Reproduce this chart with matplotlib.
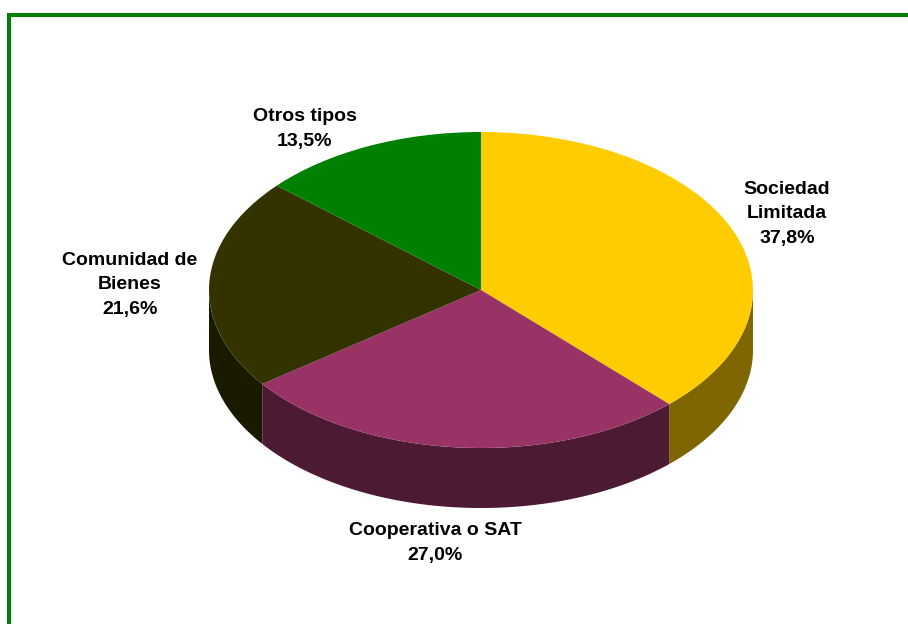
import numpy as np
import matplotlib
matplotlib.use('Agg')
import matplotlib.pyplot as plt
from matplotlib.lines import Line2D

# ---- data ----
categories = ['Sociedad\nLimitada', 'Cooperativa o SAT', 'Comunidad de\nBienes', 'Otros tipos']
shares = [37.8, 27.0, 21.6, 13.5]
share_labels = ['37,8%', '27,0%', '21,6%', '13,5%']
top_colors = ['#FFCC00', '#993366', '#333300', '#008000']
side_colors = ['#806600', '#4D1A33', '#1A1A00', '#004000']

# ---- layout (pixels) ----
W, H = 908, 624
cx, cy, rx, ry, depth_px = 481, 290, 272, 158, 60
label_pos = [(787, 214), (435, 543), (130, 285), (305, 129)]

fig = plt.figure(figsize=(W / 100, H / 100), dpi=100)
ax = fig.add_axes([0, 0, 1, 1])
depth = depth_px / ry

# top face
ax.pie(shares, colors=top_colors, startangle=90, counterclock=False, radius=1,
       wedgeprops=dict(linewidth=0, antialiased=True), normalize=True)

# side walls (front half only)
frac = np.array(shares) / np.sum(shares)
cum = np.concatenate([[0], np.cumsum(frac)])
for i in range(len(shares)):
    a_start = 90 - 360 * cum[i]
    a_end = 90 - 360 * cum[i + 1]
    lo, hi = max(a_end, -180), min(a_start, 0)
    if hi <= lo:
        continue
    t = np.radians(np.linspace(lo, hi, 200))
    xs = np.concatenate([np.cos(t), np.cos(t[::-1])])
    ys = np.concatenate([np.sin(t), np.sin(t[::-1]) - depth])
    ax.fill(xs, ys, color=side_colors[i], lw=0, zorder=0.5)

ax.set_aspect('auto')
ax.set_xlim(-cx / rx, (W - cx) / rx)
ax.set_ylim(-(H - cy) / ry, cy / ry)
ax.axis('off')

for (px, py), cat, lab in zip(label_pos, categories, share_labels):
    fig.text(px / W, 1 - py / H, f'{cat}\n{lab}', ha='center', va='center',
             fontweight='bold', fontsize=14, family='Liberation Sans',
             linespacing=1.57, color='black')

# green frame (left and top edges)
fig.add_artist(Line2D([9 / W, 9 / W, 1], [0, 1 - 15 / H, 1 - 15 / H],
                      color='#008000', lw=2.9, transform=fig.transFigure,
                      solid_joinstyle='miter', solid_capstyle='butt'))

fig.savefig('out.png', dpi=100)
